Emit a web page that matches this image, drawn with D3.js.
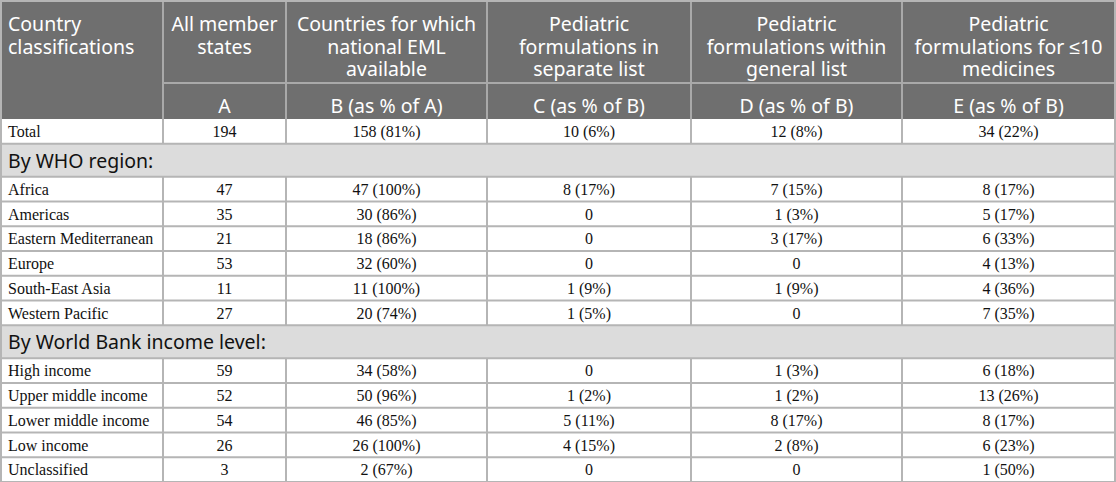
<!DOCTYPE html>
<html>
<head>
  <script src="https://cdnjs.cloudflare.com/ajax/libs/d3/7.8.5/d3.min.js"></script>
  <style>
    body { margin: 0; background: #fff; }
    .head text { font-family: "Noto Sans", sans-serif; font-size: 19.5px; fill: #fff; }
    .band text { font-family: "Noto Sans", sans-serif; font-size: 19.5px; fill: #111; }
    .cell text { font-family: "Liberation Serif", "Times New Roman", serif; font-size: 16px; fill: #111; }
  </style>
</head>
<body>
  <div id="table"></div>

  <script>
    // Column headings
    const headerTitles = [
      ["Country", "classifications"],
      ["All member", "states"],
      ["Countries for which", "national EML", "available"],
      ["Pediatric", "formulations in", "separate list"],
      ["Pediatric", "formulations within", "general list"],
      ["Pediatric", "formulations for \u226410", "medicines"]
    ];
    const headerCodes = ["", "A", "B (as % of A)", "C (as % of B)", "D (as % of B)", "E (as % of B)"];

    // Rows
    const rowLabels = ["Total", "Africa", "Americas", "Eastern Mediterranean", "Europe", "South-East Asia",
      "Western Pacific", "High income", "Upper middle income", "Lower middle income", "Low income", "Unclassified"];
    const groupLabels = ["By WHO region:", "By World Bank income level:"];
    const groupStarts = [1, 7]; // row index where each group band is inserted

    // Values
    const allStates = [194, 47, 35, 21, 53, 11, 27, 59, 52, 54, 26, 3];
    const emlCount = [158, 47, 30, 18, 32, 11, 20, 34, 50, 46, 26, 2];
    const emlPct = [81, 100, 86, 86, 60, 100, 74, 58, 96, 85, 100, 67];
    const separateCount = [10, 8, 0, 0, 0, 1, 1, 0, 1, 5, 4, 0];
    const separatePct = [6, 17, 0, 0, 0, 9, 5, 0, 2, 11, 15, 0];
    const generalCount = [12, 7, 1, 3, 0, 1, 0, 1, 1, 8, 2, 0];
    const generalPct = [8, 15, 3, 17, 0, 9, 0, 3, 2, 17, 8, 0];
    const fewCount = [34, 8, 5, 6, 4, 4, 7, 6, 13, 8, 6, 1];
    const fewPct = [22, 17, 17, 33, 13, 36, 35, 18, 26, 17, 23, 50];

    const fmt = (n, p) => n === 0 ? "0" : `${n} (${p}%)`;

    const width = 1116;
    const height = 482;
    const colWidths = [162, 123, 201, 204, 211, 213];
    const headTop = 1, head1H = 82, head2H = 36, dataH = 24.75, bandH = 33;

    const colKeys = d3.range(colWidths.length);
    const colEdges = [1].concat(Array.from(d3.cumsum(colWidths), v => v + 1));
    const x = d3.scaleOrdinal().domain(colKeys).range(colEdges.slice(0, -1));
    const w = d3.scaleOrdinal().domain(colKeys).range(colWidths);

    // build row list
    const rows = [];
    rowLabels.forEach((label, i) => {
      const g = groupStarts.indexOf(i);
      if (g >= 0) rows.push({ id: "g" + g, type: "band", label: groupLabels[g] });
      rows.push({
        id: "r" + i, type: "data",
        cells: [label, String(allStates[i]), fmt(emlCount[i], emlPct[i]), fmt(separateCount[i], separatePct[i]),
          fmt(generalCount[i], generalPct[i]), fmt(fewCount[i], fewPct[i])]
      });
    });
    const rowH = rows.map(r => r.type === "band" ? bandH : dataH);
    const bodyTop = headTop + head1H + head2H;
    const rowTops = [bodyTop].concat(Array.from(d3.cumsum(rowH), v => v + bodyTop)).slice(0, -1);
    const y = d3.scaleOrdinal().domain(rows.map(r => r.id)).range(rowTops);
    const h = d3.scaleOrdinal().domain(rows.map(r => r.id)).range(rowH);
    const bottom = bodyTop + d3.sum(rowH);

    const svg = d3.select("#table")
      .append("svg")
      .attr("width", width)
      .attr("height", height);

    // Header
    const head = svg.append("g").attr("class", "head");
    head.append("rect")
      .attr("x", 1).attr("y", headTop)
      .attr("width", colEdges[colEdges.length - 1] - 1).attr("height", head1H + head2H)
      .attr("fill", "#6f6f6f");

    head.selectAll("line.v")
      .data(colKeys.slice(1))
      .enter().append("line")
      .attr("x1", d => x(d)).attr("x2", d => x(d))
      .attr("y1", headTop).attr("y2", bodyTop)
      .attr("stroke", "#a9a9a9").attr("stroke-width", 2);

    head.append("line")
      .attr("x1", x(1)).attr("x2", colEdges[colEdges.length - 1])
      .attr("y1", headTop + head1H).attr("y2", headTop + head1H)
      .attr("stroke", "#a9a9a9").attr("stroke-width", 2);

    head.selectAll("text.title")
      .data(headerTitles)
      .enter().append("text")
      .attr("class", "title")
      .attr("text-anchor", (d, i) => i === 0 ? "start" : "middle")
      .attr("x", (d, i) => i === 0 ? x(i) + 7 : x(i) + w(i) / 2)
      .each(function(d) {
        d3.select(this).selectAll("tspan")
          .data(d)
          .enter().append("tspan")
          .attr("x", d3.select(this).attr("x"))
          .attr("y", (t, j) => headTop + 30 + j * 22.5)
          .text(t => t);
      });

    head.selectAll("text.code")
      .data(headerCodes)
      .enter().append("text")
      .attr("class", "code")
      .attr("text-anchor", "middle")
      .attr("x", (d, i) => x(i) + w(i) / 2)
      .attr("y", bodyTop - 6)
      .text(d => d);

    // Body rows
    const body = svg.selectAll("g.row")
      .data(rows)
      .enter().append("g")
      .attr("class", d => d.type === "band" ? "row band" : "row cell")
      .attr("transform", d => `translate(0,${y(d.id)})`);

    body.append("rect")
      .attr("x", 1).attr("y", 0)
      .attr("width", colEdges[colEdges.length - 1] - 1)
      .attr("height", d => h(d.id))
      .attr("fill", d => d.type === "band" ? "#dcdcdc" : "#fff");

    body.filter(d => d.type === "band")
      .append("text")
      .attr("x", 8)
      .attr("y", d => h(d.id) - 9)
      .text(d => d.label);

    body.filter(d => d.type === "data")
      .selectAll("text")
      .data(d => d.cells)
      .enter().append("text")
      .attr("text-anchor", (d, i) => i === 0 ? "start" : "middle")
      .attr("x", (d, i) => i === 0 ? x(i) + 7 : x(i) + w(i) / 2)
      .attr("y", 18)
      .text(d => d);

    body.filter(d => d.type === "data")
      .selectAll("line")
      .data(colKeys.slice(1))
      .enter().append("line")
      .attr("x1", d => x(d)).attr("x2", d => x(d))
      .attr("y1", 0).attr("y2", (d, i, n) => h(d3.select(n[i].parentNode).datum().id))
      .attr("stroke", "#b5b5b5").attr("stroke-width", 2);

    // horizontal rules between body rows
    svg.selectAll("line.hr")
      .data(rows)
      .enter().append("line")
      .attr("class", "hr")
      .attr("x1", 1).attr("x2", colEdges[colEdges.length - 1])
      .attr("y1", d => y(d.id) + h(d.id)).attr("y2", d => y(d.id) + h(d.id))
      .attr("stroke", "#b5b5b5").attr("stroke-width", 2);

    // outer frame
    svg.append("rect")
      .attr("x", 1).attr("y", headTop)
      .attr("width", colEdges[colEdges.length - 1] - 1)
      .attr("height", bottom - headTop)
      .attr("fill", "none")
      .attr("stroke", "#b5b5b5").attr("stroke-width", 2);
  </script>
</body>
</html>
